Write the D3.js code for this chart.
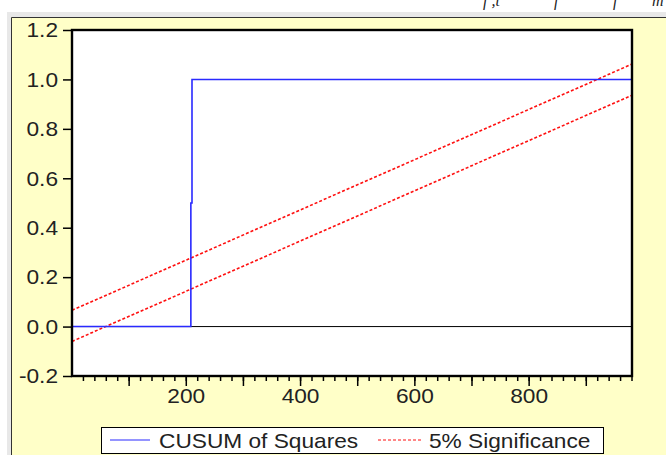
<!DOCTYPE html>
<html>
<head>
<meta charset="utf-8">
<script src="https://cdn.jsdelivr.net/npm/d3@7"></script>
<style>
  html, body { margin: 0; padding: 0; background: #fff; }
  svg { display: block; font-family: "Liberation Sans", Arial, sans-serif; }
</style>
</head>
<body>
<svg id="chart" width="666" height="455"></svg>
<script>
// observation number vs cusum of squares (step at obs ~208-211)
const cusumObs = [1, 208, 208, 210, 210, 980];
const cusumVal = [0, 0, 0.5, 0.5, 1.0, 1.0];

// 5% significance bounds (straight lines)
const boundObs = [0, 980];
const upperVal = [0.066, 1.062];
const lowerVal = [-0.06, 0.936];

const yTicks = [-0.2, 0.0, 0.2, 0.4, 0.6, 0.8, 1.0, 1.2];
const xLabels = [200, 400, 600, 800];
const xMajor = [100, 200, 300, 400, 500, 600, 700, 800, 900];
const xMinor = d3.range(20, 981, 20);

const legendItems = ['CUSUM of Squares', '5% Significance'];

const svg = d3.select('#chart');
const W = 666, H = 455;
const plot = { left: 72, top: 30, right: 632, bottom: 376 };
const stretch = 1.08;

const x = d3.scaleLinear().domain([0, 980]).range([plot.left, plot.right]);
const y = d3.scaleLinear().domain([-0.2, 1.2]).range([plot.bottom, plot.top]);

function widen(sel) {
  sel.each(function () {
    const len = this.getComputedTextLength();
    d3.select(this).attr('textLength', len * stretch).attr('lengthAdjust', 'spacingAndGlyphs');
  });
}

// page background / frame
svg.append('rect').attr('width', W).attr('height', H).attr('fill', '#fff');
svg.append('rect').attr('x', 7).attr('y', 12).attr('width', W - 7).attr('height', H - 12).attr('fill', '#e8e8e8');
svg.append('rect').attr('x', 11).attr('y', 17).attr('width', W - 11).attr('height', H - 17).attr('fill', '#ffffc8');
svg.append('path').attr('d', `M11.5,${H}V17.5H${W}`).attr('fill', 'none').attr('stroke', '#333').attr('stroke-width', 1);

// cut-off text of the document above the chart
svg.append('g').attr('font-family', '"Liberation Serif", serif').attr('font-style', 'italic')
  .attr('font-size', 16).attr('fill', '#222')
  .selectAll('text').data([[483, 'f ,t'], [554, 'f'], [613, 'f'], [652, 'm']])
  .join('text').attr('x', d => d[0]).attr('y', 6).text(d => d[1]);

// plot area
svg.append('rect').attr('x', plot.left).attr('y', plot.top)
  .attr('width', plot.right - plot.left).attr('height', plot.bottom - plot.top).attr('fill', '#fff');

// zero line
svg.append('line').attr('x1', plot.left).attr('x2', plot.right)
  .attr('y1', y(0)).attr('y2', y(0)).attr('stroke', '#000').attr('stroke-width', 1);

const line = d3.line().x(d => x(d[0])).y(d => y(d[1]));

// significance bounds
[upperVal, lowerVal].forEach((vals) => {
  svg.append('path').datum(boundObs.map((o, i) => [o, vals[i]]))
    .attr('d', line).attr('fill', 'none').attr('stroke', '#ff1010')
    .attr('stroke-width', 1.6).attr('stroke-dasharray', '3,2');
});

// cusum of squares
svg.append('path').datum(cusumObs.map((o, i) => [o, cusumVal[i]]))
  .attr('d', line).attr('fill', 'none').attr('stroke', '#2a2aff').attr('stroke-width', 1.6);

// plot border
svg.append('rect').attr('x', plot.left).attr('y', plot.top)
  .attr('width', plot.right - plot.left).attr('height', plot.bottom - plot.top)
  .attr('fill', 'none').attr('stroke', '#000').attr('stroke-width', 2.4);

// y axis
const yAxis = svg.append('g').attr('transform', `translate(${plot.left},0)`)
  .call(d3.axisLeft(y).tickValues(yTicks).tickSize(9).tickPadding(5)
    .tickFormat(d => d3.format('.1f')(d).replace('\u2212', '-')));
yAxis.select('.domain').remove();
yAxis.selectAll('line').attr('stroke', '#000').attr('stroke-width', 1.5);
yAxis.selectAll('text').attr('font-size', 21).attr('font-family', '"Liberation Sans", Arial, sans-serif')
  .attr('fill', '#222').call(widen);

// x axis: minor, major ticks and labels
const xg = svg.append('g').attr('transform', `translate(0,${plot.bottom})`);
xg.selectAll('line.minor').data(xMinor).join('line').attr('class', 'minor')
  .attr('x1', d => x(d)).attr('x2', d => x(d)).attr('y1', 0).attr('y2', 5)
  .attr('stroke', '#000').attr('stroke-width', 1.5);
xg.selectAll('line.major').data(xMajor).join('line').attr('class', 'major')
  .attr('x1', d => x(d)).attr('x2', d => x(d)).attr('y1', 0).attr('y2', 10)
  .attr('stroke', '#000').attr('stroke-width', 1.5);
xg.selectAll('text').data(xLabels).join('text')
  .attr('x', d => x(d)).attr('y', 27).attr('text-anchor', 'middle')
  .attr('font-size', 21).attr('fill', '#222').text(d => d).call(widen);

// legend
const lg = svg.append('g');
lg.append('rect').attr('x', 101.5).attr('y', 427.5).attr('width', 502).attr('height', 26)
  .attr('fill', '#fff').attr('stroke', '#000').attr('stroke-width', 1);
lg.append('line').attr('x1', 110).attr('x2', 150).attr('y1', 440).attr('y2', 440)
  .attr('stroke', '#2a2aff').attr('stroke-width', 1.2);
lg.append('line').attr('x1', 378).attr('x2', 421).attr('y1', 440).attr('y2', 440)
  .attr('stroke', '#ff1010').attr('stroke-width', 1.2).attr('stroke-dasharray', '3,2');
lg.selectAll('text').data(legendItems).join('text')
  .attr('x', (d, i) => (i === 0 ? 159 : 429)).attr('y', 448)
  .attr('font-size', 21).attr('fill', '#222').text(d => d).call(widen);
</script>
</body>
</html>
